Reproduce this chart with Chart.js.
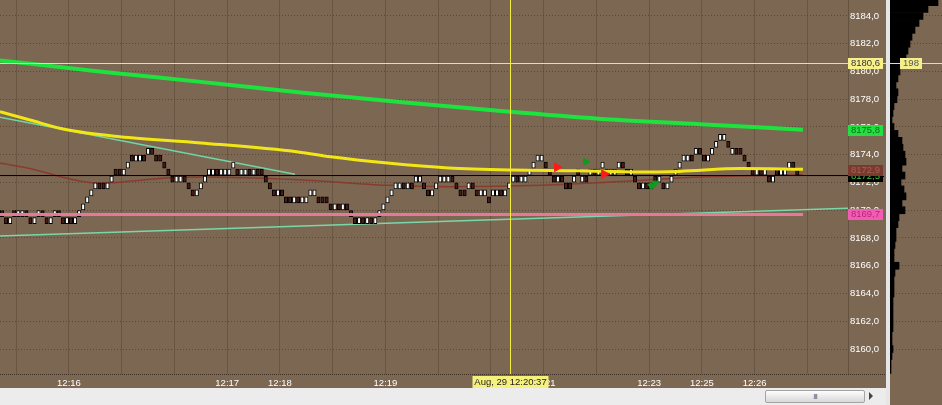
<!DOCTYPE html>
<html>
<head>
<meta charset="utf-8">
<script src="https://cdn.jsdelivr.net/npm/chart.js@4.4.0/dist/chart.umd.min.js"></script>
<style>
html, body { margin: 0; padding: 0; width: 942px; height: 405px; overflow: hidden; background: #ececec; font-family: "Liberation Sans", Arial, sans-serif; }
#main { position: absolute; left: 0; top: 0; width: 886px; height: 388px; background: #7b6752; }
#sep { position: absolute; left: 886px; top: 0; width: 4px; height: 405px; background: #e6e6e6; }
#side { position: absolute; left: 890px; top: 0; width: 52px; height: 405px; background: #7b6752; }
#scroll { position: absolute; left: 765px; top: 390px; width: 100px; height: 13px; box-sizing: border-box; border: 1px solid #a4a4a4; border-radius: 2px; background: linear-gradient(#fdfdfd, #d8d8d8); font-size: 8px; line-height: 11px; text-align: center; color: #666; letter-spacing: -1px; }
#arrow { position: absolute; left: 869px; top: 392px; width: 0; height: 0; border-top: 4px solid transparent; border-bottom: 4px solid transparent; border-left: 4px solid #444; }
</style>
</head>
<body>
<div id="main"><canvas id="chart" width="886" height="388"></canvas></div>
<div id="sep"></div>
<div id="side"><canvas id="vol" width="52" height="374"></canvas></div>
<div id="scroll">III</div>
<div id="arrow"></div>
<script>
// bricks: level counted in 0.5 steps above 8169, u = up (white), d = down
const brickBase = 8169;
const brickSize = 0.5;
const brickLevel = [
  1,0,0,1,1,1,1,0,0,1,1,0,0,1,1,0,0,0,0,
  1,2,3,4,5,5,5,5,6,7,7,7,8,9,9,9,9,10,10,9,9,8,
  7,6,6,6,6,5,4,4,5,6,7,7,7,7,7,7,8,7,7,7,7,7,7,7,6,5,4,4,4,3,3,3,3,3,3,4,4,
  3,3,3,2,2,2,2,2,1,0,0,0,0,0,0,1,2,3,4,5,5,5,5,5,6,6,5,4,4,5,6,6,6,6,5,4,4,5,5,4,
  4,4,3,4,4,4,4,5,6,6,6,6,7,8,9,9,8,7,6,6,6,5,5,6,7,6,6,7,7,7,8,7,7,7,8,8,7,7,6,
  5,5,5,5,6,6,5,5,6,7,8,9,9,9,10,10,9,9,10,11,12,12,11,10,10,10,9,8,7,7,7,7,6,6,7,7,7,8,8,7
];
const brickDir = (
  "dduduudduudduuddudu" +
  "uuuuudduudduuduududddd" +
  "dduuddduuu" + "uuduuu" + "u" + "duududd" + "dddudd" + "duduu" + "uu" +
  "ddddududdd" + "ududuuuuuu" + "ududuudduu" + "uuuddddudd" +
  "uuduuduuud" + "uuuuuudddu" + "dddudududu" + "uduuuddud" +
  "dudududuuu" + "uuududduuu" + "uududddddu" + "dududuuudd"
).split("");

// moving averages / trend lines (bar index, price)
const greenX = [-0.5, 24, 49, 73, 98, 123, 147, 172, 197.4];
const greenY = [8180.8, 8180.0, 8179.25, 8178.5, 8177.8, 8177.15, 8176.6, 8176.2, 8175.8];
const yellowX = [-0.5, 6.9, 16, 29, 49, 73, 81, 95, 110, 126, 142, 157, 167, 182, 197.4];
const yellowY = [8177.1, 8176.5, 8175.8, 8175.3, 8174.85, 8174.2, 8173.85, 8173.4, 8173.05, 8172.9, 8172.85, 8172.75, 8172.8, 8173.0, 8172.95];
const redX = [-0.5, 7.6, 16, 24, 32, 41, 49, 73, 95, 110, 133, 157, 172, 197.4];
const redY = [8173.4, 8172.95, 8172.3, 8171.95, 8172.1, 8172.35, 8172.4, 8172.2, 8171.8, 8171.7, 8171.8, 8172.15, 8172.4, 8172.55];
const trendDownX = [-0.5, 72.2];
const trendDownY = [8176.7, 8172.6];
const trendUpX = [-0.5, 208.5];
const trendUpY = [8168.15, 8170.15];
const pinkX = [-0.5, 197.4];
const pinkY = [8169.7, 8169.7];
const blackLevel = 8172.5;

// signal arrows
const sellX = [136.8, 148.4];
const sellY = [8173.1, 8172.6];
const buyX = [143.9];
const buyY = [8173.5];
const buyLowX = [160, 161];
const buyLowY = [8171.75, 8171.95];

// crosshair
const crossIdx = 125.2;
const crossPrice = 8180.6;
const crossTime = "Aug, 29 12:20:37";
const crossVolume = "198";

// axis
const yMin = 8158.2, yMax = 8185.15;
const yTicks = [8160, 8162, 8164, 8166, 8168, 8170, 8172, 8174, 8176, 8178, 8180, 8182, 8184];
const gridIdx = [3.5, 16.5, 29.5, 42.5, 55.5, 68.5, 81.5, 94.5, 107.5, 120.5, 133.5, 146.5, 159.5, 172.5, 185.5, 198.5];
const timeLabels = ["", "12:16", "", "", "12:17", "12:18", "", "12:19", "", "", "12:21", "", "12:23", "12:25", "12:26", ""];

// price tags on the axis
const tagValues = [8172.5, 8172.9, 8175.8, 8169.7, 8180.6];
const tagBg = ["#000000", "#7a3a30", "#22e040", "#f45cb4", "#f8f08a"];
const tagFg = ["#3cc03c", "#a86050", "#0b6a1c", "#b02878", "#333333"];

// volume profile
const volPrice = [8185, 8184.5, 8184, 8183.5, 8183, 8182.5, 8182, 8181.5, 8181, 8180.5, 8180, 8179.5, 8179, 8178.5, 8178, 8177.5, 8177, 8176.5, 8176, 8175.5, 8175, 8174.5, 8174, 8173.5, 8173, 8172.5, 8172, 8171.5, 8171, 8170.5, 8170, 8169.5, 8169, 8168.5, 8168, 8167.5, 8167, 8166.5, 8166, 8165.5, 8165, 8164.5, 8164, 8163.5, 8163, 8162.5, 8162, 8161.5, 8161, 8160.5, 8160, 8159.5, 8159, 8158.5];
const volSize = [48, 38, 33, 29, 25, 22, 20, 18, 16, 12, 10, 8, 6, 8, 7, 4, 3, 2, 4, 8, 12, 13, 15, 16, 12, 15, 11, 14, 16, 12, 15, 9, 8, 6, 6, 5, 4, 4, 9, 5, 4, 4, 4, 3, 3, 3, 3, 3, 2, 2, 3, 2, 1, 1];

const FONT = '"Liberation Sans", Arial, sans-serif';
const fmt = v => v.toFixed(1).replace(".", ",");
const pts = (xs, ys) => xs.map((x, i) => ({ x, y: ys[i] }));
const noPad = s => { s.paddingTop = 0; s.paddingBottom = 0; s.paddingLeft = 0; s.paddingRight = 0; };

const lineDs = (data, color, width, order) => ({
  type: "line", data, borderColor: color, borderWidth: width,
  pointRadius: 0, cubicInterpolationMode: "monotone", order
});

const overlay = {
  id: "overlay",
  afterDraw(chart) {
    const { ctx, chartArea: a, scales: { x, y } } = chart;
    ctx.save();
    ctx.strokeStyle = "#3e3024";
    ctx.lineWidth = 1;
    ctx.setLineDash([1, 1]);
    ctx.beginPath();
    ctx.moveTo(a.left, a.bottom + 0.5);
    ctx.lineTo(chart.width, a.bottom + 0.5);
    ctx.stroke();
    ctx.setLineDash([]);

    // crosshair
    const cx = Math.round(x.getPixelForValue(crossIdx)) + 0.5;
    const cy = Math.round(y.getPixelForValue(crossPrice)) + 0.5;
    ctx.strokeStyle = "#f4ec3c";
    ctx.beginPath();
    ctx.moveTo(cx, a.top);
    ctx.lineTo(cx, a.bottom);
    ctx.moveTo(a.left, cy);
    ctx.lineTo(chart.width, cy);
    ctx.stroke();

    // black level line into the axis
    ctx.strokeStyle = "#000";
    const by = Math.round(y.getPixelForValue(blackLevel)) + 0.5;
    ctx.beginPath();
    ctx.moveTo(a.right, by);
    ctx.lineTo(a.right + 36, by);
    ctx.stroke();

    ctx.font = "9.5px " + FONT;
    ctx.textAlign = "center";
    ctx.textBaseline = "middle";
    tagValues.forEach((v, i) => {
      const py = y.getPixelForValue(v);
      ctx.fillStyle = tagBg[i];
      ctx.fillRect(a.right, Math.round(py) - 5, 35, 11);
      ctx.fillStyle = tagFg[i];
      ctx.fillText(fmt(v), a.right + 17.5, Math.round(py) + 0.5);
    });

    ctx.fillStyle = "#f6f07c";
    ctx.fillRect(cx - 38, a.bottom + 2, 76, 12);
    ctx.fillStyle = "#222";
    ctx.fillText(crossTime, cx, a.bottom + 8.5);
    ctx.restore();
  }
};

new Chart(document.getElementById("chart"), {
  type: "bar",
  data: {
    datasets: [
      {
        type: "scatter", data: pts(sellX, sellY), pointStyle: "triangle", rotation: 90,
        pointRadius: 5, backgroundColor: "#ff1a1a", borderColor: "#ff1a1a", order: 0
      },
      {
        type: "scatter", data: pts(buyX, buyY), pointStyle: "triangle", rotation: 90,
        pointRadius: 4, backgroundColor: "#109a20", borderColor: "#109a20", order: 0
      },
      {
        type: "scatter", data: pts(buyLowX, buyLowY), pointStyle: "triangle", rotation: 180,
        pointRadius: 4, backgroundColor: "#109a20", borderColor: "#109a20", order: 0
      },
      lineDs(pts(greenX, greenY), "#1ee23e", 4, 1),
      lineDs(pts(yellowX, yellowY), "#f2e616", 3, 2),
      lineDs(pts(pinkX, pinkY), "#e6789c", 3, 3),
      lineDs([{ x: -0.5, y: blackLevel }, { x: 208.5, y: blackLevel }], "#000000", 1, 4),
      {
        type: "bar",
        data: brickLevel.map((l, i) => ({ x: i, y: [brickBase + l * brickSize + 0.03, brickBase + (l + 1) * brickSize - 0.03] })),
        backgroundColor: brickDir.map(d => d === "u" ? "#ffffff" : "#4a1c16"),
        borderColor: "#000000",
        borderWidth: 1,
        borderSkipped: false,
        barThickness: 3.4,
        grouped: false,
        order: 5
      },
      lineDs(pts(trendDownX, trendDownY), "#6fd6a6", 1.5, 6),
      lineDs(pts(trendUpX, trendUpY), "#7ad8a8", 1.5, 6),
      lineDs(pts(redX, redY), "rgba(140,52,40,0.85)", 1.5, 7)
    ]
  },
  options: {
    responsive: false,
    animation: false,
    events: [],
    layout: { padding: 0, autoPadding: false },
    plugins: { legend: { display: false }, tooltip: { enabled: false } },
    scales: {
      x: {
        type: "linear", min: -0.5, max: 208.5, offset: false,
        afterBuildTicks: s => { s.ticks = gridIdx.map(v => ({ value: v })); },
        afterFit: s => { s.height = 14; noPad(s); },
        ticks: {
          color: "#ffffff", font: { family: FONT, size: 9.5 }, padding: 4,
          maxRotation: 0, autoSkip: false,
          callback: v => timeLabels[gridIdx.indexOf(v)] || ""
        },
        grid: { offset: false, color: "#685642", lineWidth: 1, drawTicks: false },
        border: { display: false }
      },
      y: {
        type: "linear", position: "right", min: yMin, max: yMax,
        afterBuildTicks: s => { s.ticks = yTicks.map(v => ({ value: v })); },
        afterFit: s => { s.width = 38; noPad(s); },
        ticks: {
          color: "#ffffff", font: { family: FONT, size: 9.5 }, padding: 2,
          crossAlign: "center", callback: v => fmt(v)
        },
        grid: { color: "#5a4836", lineWidth: 1, drawTicks: false },
        border: { display: true, color: "#645240", dash: [1, 2] }
      }
    }
  },
  plugins: [overlay]
});

const volOverlay = {
  id: "volOverlay",
  afterDraw(chart) {
    const { ctx, scales: { y } } = chart;
    const cy = Math.round(y.getPixelForValue(crossPrice)) + 0.5;
    ctx.save();
    ctx.strokeStyle = "#f4ec3c";
    ctx.lineWidth = 1;
    ctx.beginPath();
    ctx.moveTo(0, cy);
    ctx.lineTo(chart.width, cy);
    ctx.stroke();
    ctx.fillStyle = "#f4ee8c";
    ctx.fillRect(10, cy - 5.5, 22, 11);
    ctx.fillStyle = "#555";
    ctx.font = "9.5px " + FONT;
    ctx.textAlign = "center";
    ctx.textBaseline = "middle";
    ctx.fillText(crossVolume, 21, cy);
    ctx.restore();
  }
};

new Chart(document.getElementById("vol"), {
  type: "bar",
  data: {
    datasets: [{
      data: volPrice.map((p, i) => ({ x: volSize[i], y: p })),
      backgroundColor: "#000000",
      borderWidth: 0,
      barThickness: 7,
      grouped: false
    }]
  },
  options: {
    indexAxis: "y",
    responsive: false,
    animation: false,
    events: [],
    layout: { padding: 0, autoPadding: false },
    plugins: { legend: { display: false }, tooltip: { enabled: false } },
    scales: {
      x: { type: "linear", min: 0, max: 52, display: false },
      y: {
        type: "linear", position: "left", min: yMin, max: yMax, offset: false,
        afterBuildTicks: s => { s.ticks = yTicks.map(v => ({ value: v })); },
        afterFit: s => { s.width = 0; noPad(s); },
        ticks: { display: false },
        grid: { offset: false, color: "#5a4836", lineWidth: 1, drawTicks: false },
        border: { display: false, dash: [1, 2] }
      }
    }
  },
  plugins: [volOverlay]
});
</script>
</body>
</html>
